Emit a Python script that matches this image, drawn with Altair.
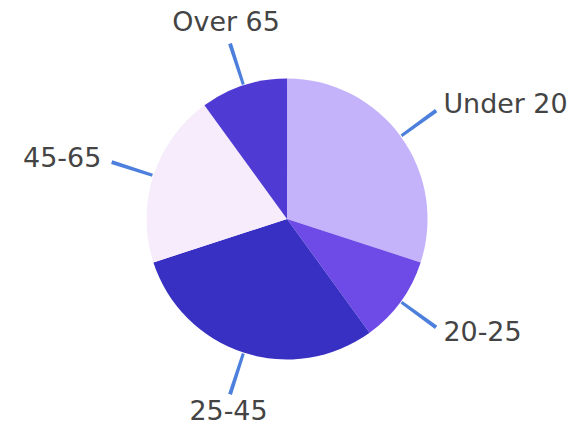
import altair as alt
import pandas as pd

categories = ["Under 20", "20-25", "25-45", "45-65", "Over 65"]
values = [30, 10, 30, 20, 10]
colors = ["#c4b2fa", "#6e4ae6", "#3730c2", "#f6ecfb", "#4f3bd4"]

df = pd.DataFrame({"cat": categories, "value": values, "idx": list(range(len(categories)))})

theta_scale = alt.Scale(domain=[0, 100])
color = alt.Color("cat:N", scale=alt.Scale(domain=categories, range=colors), legend=None)

base = alt.Chart(df)

pie = base.mark_arc(outerRadius=141, innerRadius=0, stroke=None).encode(
    theta=alt.Theta("value:Q", stack=True, scale=theta_scale),
    order=alt.Order("idx:Q"),
    color=color,
)

lines = base.transform_window(
    cum="sum(value)", sort=[{"field": "idx"}], frame=[None, 0]
).transform_calculate(
    lo="datum.cum - datum.value / 2 - 0.17",
    hi="datum.cum - datum.value / 2 + 0.17",
).mark_arc(innerRadius=142, outerRadius=185, color="#4d7fdc").encode(
    theta=alt.Theta("lo:Q", scale=theta_scale),
    theta2="hi:Q",
)

def label(cats, radius, align, baseline):
    return base.mark_text(
        radius=radius, align=align, baseline=baseline,
        font="DejaVu Sans", fontSize=27, color="#444444",
    ).encode(
        theta=alt.Theta("value:Q", stack=True, scale=theta_scale),
        order=alt.Order("idx:Q"),
        text="cat:N",
        opacity=alt.condition(alt.FieldOneOfPredicate(field="cat", oneOf=cats), alt.value(1), alt.value(0)),
    )

labels = [
    label(["Under 20", "20-25"], 194, "left", "middle"),
    label(["45-65"], 196, "right", "middle"),
    label(["Over 65"], 198, "center", "alphabetic"),
    label(["25-45"], 190, "center", "top"),
]

chart = alt.layer(pie, lines, *labels).properties(
    width=560,
    height=400,
    padding={"left": 0, "top": 11, "right": 8, "bottom": 8},
    autosize=alt.AutoSizeParams(type="none"),
).configure_view(stroke=None)

chart.save("out.html", embed_options={"renderer": "svg", "actions": False})
